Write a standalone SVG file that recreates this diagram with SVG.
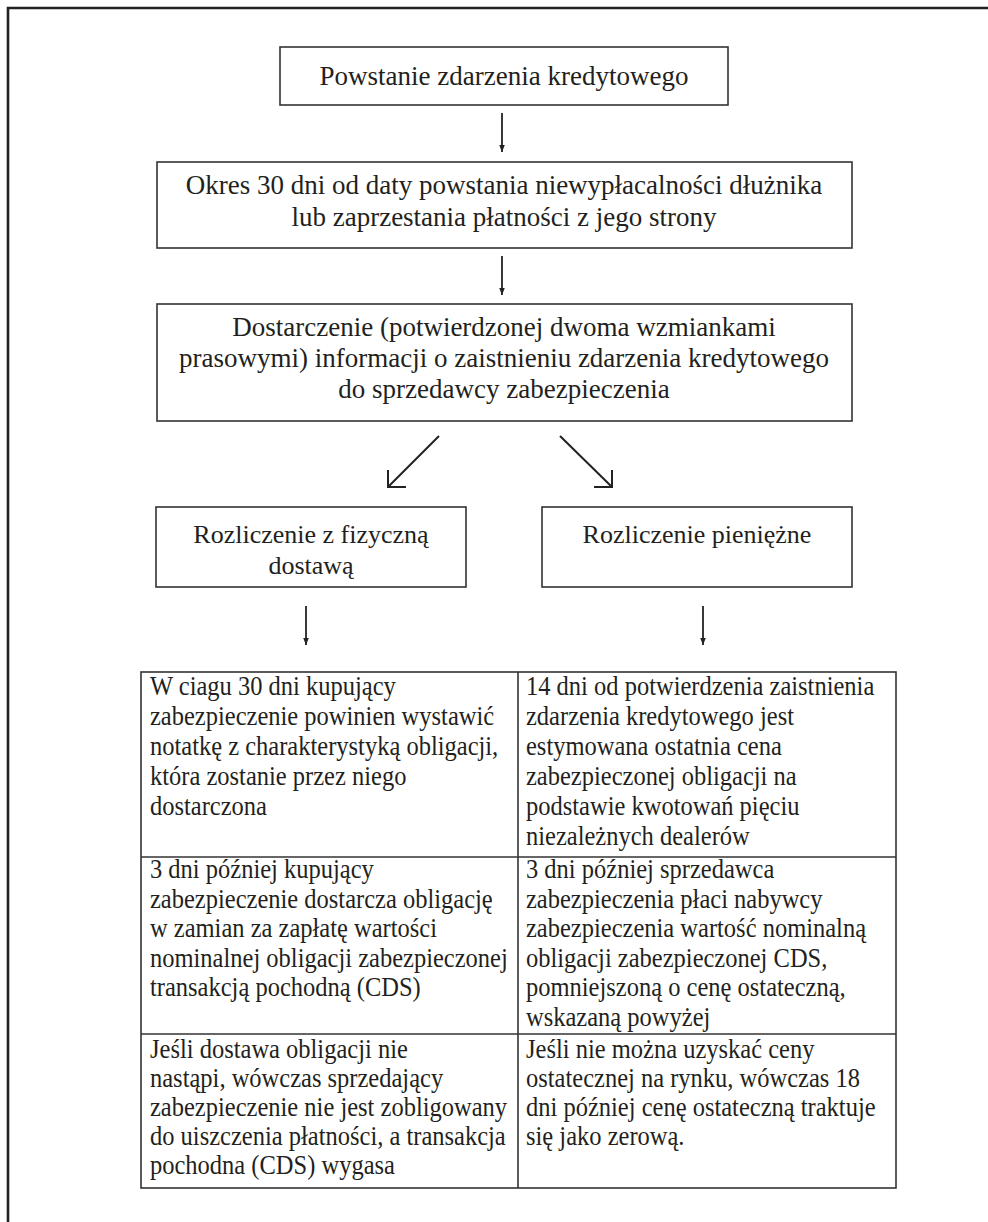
<svg xmlns="http://www.w3.org/2000/svg" width="988" height="1222" viewBox="0 0 988 1222">
<defs>
<marker id="ah" viewBox="0 0 10 10" refX="10" refY="5" markerWidth="7" markerHeight="7" markerUnits="userSpaceOnUse" orient="auto">
<path d="M0,1 L10,5 L0,9 z" fill="#222"/>
</marker>
</defs>
<style>
.box{fill:#fff;stroke:#333;stroke-width:1.6}
.bt{font-family:"Liberation Serif","Times New Roman",serif;font-size:27px;fill:#231f20;text-anchor:middle}
.mt{font-family:"Liberation Serif","Times New Roman",serif;font-size:26px;fill:#231f20;text-anchor:middle}
.tt{font-family:"Liberation Serif","Times New Roman",serif;font-size:24.5px;fill:#231f20}
.ar{stroke:#222;stroke-width:1.8;fill:none}
.dg{stroke:#222;stroke-width:2;fill:none}
.tb{stroke:#333;stroke-width:1.6;fill:none}
</style>
<rect width="988" height="1222" fill="#fff"/>
<path d="M8,1222 V8 H988" fill="none" stroke="#222" stroke-width="2.6"/>

<g id="n1">
<rect class="box" x="280" y="47" width="448" height="58"/>
<text class="bt" x="504" y="85">Powstanie zdarzenia kredytowego</text>
</g>
<g id="n2">
<rect class="box" x="157" y="162" width="695" height="86"/>
<text class="bt" x="504" y="194">Okres 30 dni od daty powstania niewypłacalności dłużnika</text>
<text class="bt" x="504" y="226">lub zaprzestania płatności z jego strony</text>
</g>
<g id="n3">
<rect class="box" x="157" y="304" width="695" height="117"/>
<text class="bt" x="504" y="336">Dostarczenie (potwierdzonej dwoma wzmiankami</text>
<text class="bt" x="504" y="367">prasowymi) informacji o zaistnieniu zdarzenia kredytowego</text>
<text class="bt" x="504" y="398">do sprzedawcy zabezpieczenia</text>
</g>
<g id="n4">
<rect class="box" x="156" y="507" width="310" height="80"/>
<text class="mt" x="311" y="543">Rozliczenie z fizyczną</text>
<text class="mt" x="311" y="574">dostawą</text>
</g>
<g id="n5">
<rect class="box" x="542" y="507" width="310" height="80"/>
<text class="mt" x="697" y="543">Rozliczenie pieniężne</text>
</g>
<g id="n6">
<rect class="tb" x="141" y="672" width="755" height="516"/>
<line class="tb" x1="518" y1="672" x2="518" y2="1188"/>
<line class="tb" x1="141" y1="857" x2="896" y2="857"/>
<line class="tb" x1="141" y1="1034" x2="896" y2="1034"/>
<text class="tt" transform="translate(150,695) scale(1,1.1)">W ciagu 30 dni kupujący</text>
<text class="tt" transform="translate(150,725) scale(1,1.1)">zabezpieczenie powinien wystawić</text>
<text class="tt" transform="translate(150,755) scale(1,1.1)">notatkę z charakterystyką obligacji,</text>
<text class="tt" transform="translate(150,785) scale(1,1.1)">która zostanie przez niego</text>
<text class="tt" transform="translate(150,815) scale(1,1.1)">dostarczona</text>
<text class="tt" transform="translate(526,695) scale(1,1.1)">14 dni od potwierdzenia zaistnienia</text>
<text class="tt" transform="translate(526,725) scale(1,1.1)">zdarzenia kredytowego jest</text>
<text class="tt" transform="translate(526,755) scale(1,1.1)">estymowana ostatnia cena</text>
<text class="tt" transform="translate(526,785) scale(1,1.1)">zabezpieczonej obligacji na</text>
<text class="tt" transform="translate(526,815) scale(1,1.1)">podstawie kwotowań pięciu</text>
<text class="tt" transform="translate(526,845) scale(1,1.1)">niezależnych dealerów</text>
<text class="tt" transform="translate(150,878) scale(1,1.1)">3 dni później kupujący</text>
<text class="tt" transform="translate(150,907.5) scale(1,1.1)">zabezpieczenie dostarcza obligację</text>
<text class="tt" transform="translate(150,937) scale(1,1.1)">w zamian za zapłatę wartości</text>
<text class="tt" transform="translate(150,966.5) scale(1,1.1)">nominalnej obligacji zabezpieczonej</text>
<text class="tt" transform="translate(150,996) scale(1,1.1)">transakcją pochodną (CDS)</text>
<text class="tt" transform="translate(526,878) scale(1,1.1)">3 dni później sprzedawca</text>
<text class="tt" transform="translate(526,907.5) scale(1,1.1)">zabezpieczenia płaci nabywcy</text>
<text class="tt" transform="translate(526,937) scale(1,1.1)">zabezpieczenia wartość nominalną</text>
<text class="tt" transform="translate(526,966.5) scale(1,1.1)">obligacji zabezpieczonej CDS,</text>
<text class="tt" transform="translate(526,996) scale(1,1.1)">pomniejszoną o cenę ostateczną,</text>
<text class="tt" transform="translate(526,1025.5) scale(1,1.1)">wskazaną powyżej</text>
<text class="tt" transform="translate(150,1058) scale(1,1.1)">Jeśli dostawa obligacji nie</text>
<text class="tt" transform="translate(150,1087) scale(1,1.1)">nastąpi, wówczas sprzedający</text>
<text class="tt" transform="translate(150,1116) scale(1,1.1)">zabezpieczenie nie jest zobligowany</text>
<text class="tt" transform="translate(150,1145) scale(1,1.1)">do uiszczenia płatności, a transakcja</text>
<text class="tt" transform="translate(150,1174) scale(1,1.1)">pochodna (CDS) wygasa</text>
<text class="tt" transform="translate(526,1058) scale(1,1.1)">Jeśli nie można uzyskać ceny</text>
<text class="tt" transform="translate(526,1087) scale(1,1.1)">ostatecznej na rynku, wówczas 18</text>
<text class="tt" transform="translate(526,1116) scale(1,1.1)">dni później cenę ostateczną traktuje</text>
<text class="tt" transform="translate(526,1145) scale(1,1.1)">się jako zerową.</text>
</g>

<g id="connectors">
<line class="ar" x1="502" y1="113" x2="502" y2="152" marker-end="url(#ah)"/>
<line class="ar" x1="502" y1="256" x2="502" y2="295" marker-end="url(#ah)"/>
<path class="dg" d="M439,436 L388,487 M388,470 L388,487 L406,487"/>
<path class="dg" d="M560,436 L612,487 M612,470 L612,487 L594,487"/>
<line class="ar" x1="306" y1="606" x2="306" y2="645" marker-end="url(#ah)"/>
<line class="ar" x1="703" y1="606" x2="703" y2="645" marker-end="url(#ah)"/>
</g>
</svg>
